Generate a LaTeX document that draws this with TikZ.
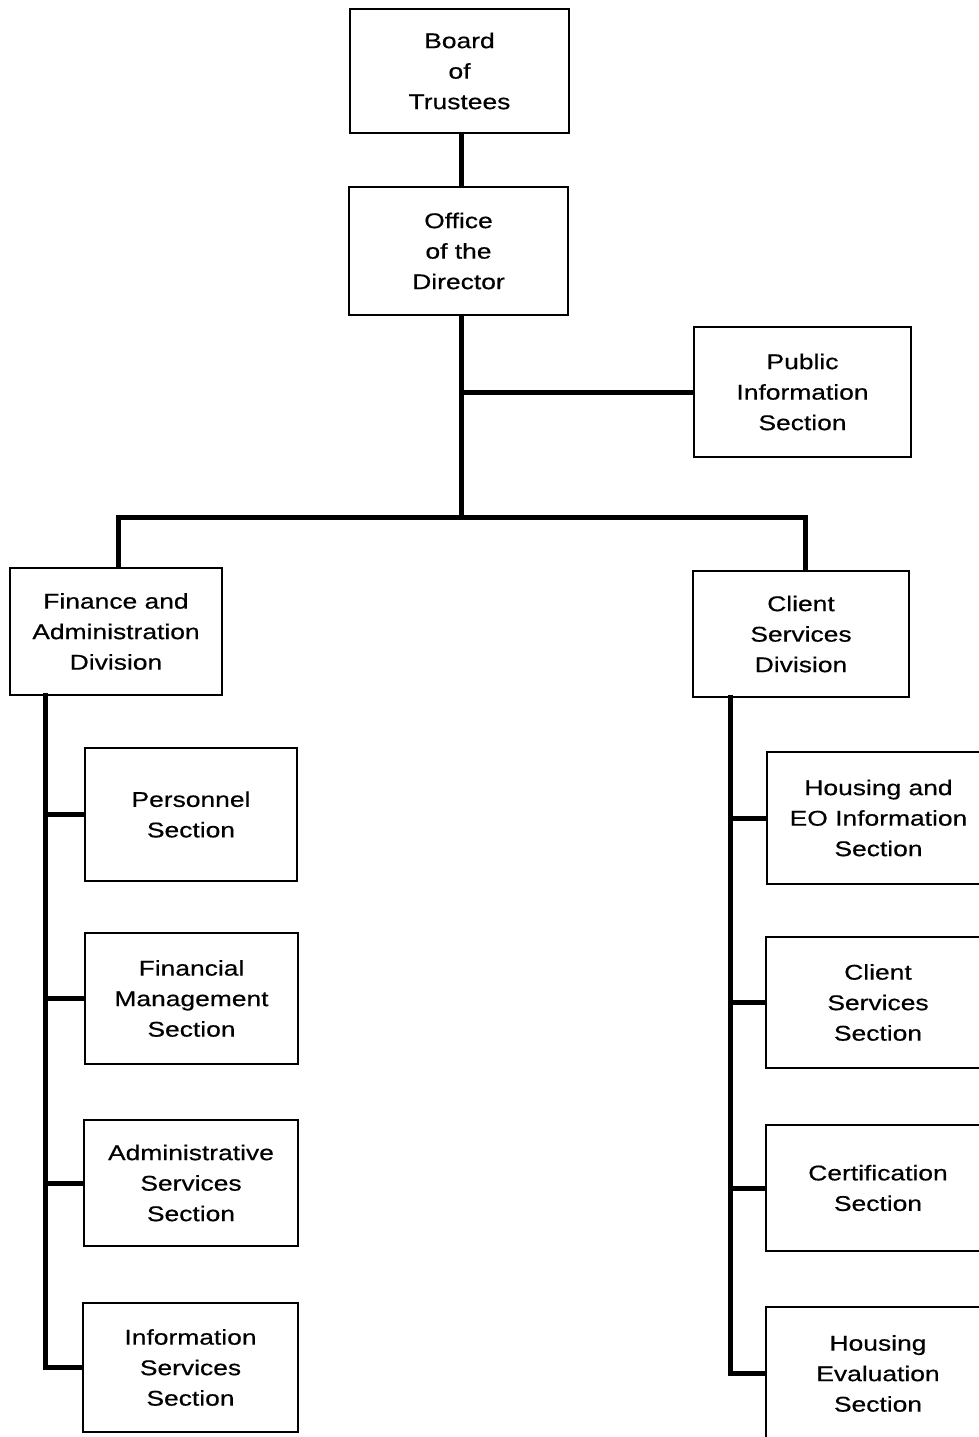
\documentclass[tikz,border=0pt]{standalone}
\usepackage{fontspec}
\setmainfont{Liberation Sans}[FakeStretch=1.24,FakeBold=0.5]
\begin{document}
\begin{tikzpicture}[x=1pt,y=-1pt,
  box/.style={draw=black,line width=2.4pt,fill=white,align=center,inner sep=0pt,
    font=\fontsize{21.3}{30.5}\selectfont},
  conn/.style={line width=5pt,line cap=rect,line join=miter},
  tick/.style={line width=5pt}]
\path[use as bounding box,clip] (0,0) rectangle (979,1437);
\fill[white] (0,0) rectangle (979,1437);
% top
\node[box,minimum width=219pt,minimum height=124pt] (board) at (459.5,71) {Board\\of\\Trustees};
\node[box,minimum width=219pt,minimum height=128pt] (office) at (458.5,251) {Office\\of the\\Director};
\node[box,minimum width=217pt,minimum height=130pt] (pub) at (802.5,392) {Public\\Information\\Section};
% divisions
\node[box,minimum width=212pt,minimum height=127pt] (fin) at (116,631.5) {Finance and\\Administration\\Division};
\node[box,minimum width=216pt,minimum height=126pt] (csd) at (801,634) {Client\\Services\\Division};
% left sections
\node[box,minimum width=212pt,minimum height=133pt] (pers) at (191,814.5) {Personnel\\Section};
\node[box,minimum width=213pt,minimum height=131pt] (finm) at (191.5,998.5) {Financial\\Management\\Section};
\node[box,minimum width=214pt,minimum height=126pt] (adm) at (191,1183) {Administrative\\Services\\Section};
\node[box,minimum width=215pt,minimum height=129pt] (info) at (190.5,1367.5) {Information\\Services\\Section};
% right sections
\node[box,minimum width=223pt,minimum height=132pt] (heo) at (878.5,818) {Housing and\\EO Information\\Section};
\node[box,minimum width=224pt,minimum height=131pt] (css) at (878,1002.5) {Client\\Services\\Section};
\node[box,minimum width=224pt,minimum height=126pt] (cert) at (878,1188) {Certification\\Section};
\node[box,minimum width=224pt,minimum height=133pt] (hev) at (878,1373.5) {Housing\\Evaluation\\Section};
% connectors
\coordinate (j) at (461,517);
\coordinate (jl) at (118,517);
\coordinate (jr) at (805,517);
\coordinate (ls) at (45,695);
\coordinate (rs) at (730,697);
\draw[conn] (board.south -| j) -- (office.north -| j);
\draw[conn] (office.south -| j) -- (j);
\draw[conn] (j |- pub.west) -- (pub.west);
\draw[conn] (fin.north -| jl) -- (jl) -- (jr) -- (csd.north -| jr);
\draw[conn] (ls) |- (info.west);
\draw[tick] (pers.west -| ls) -- (pers.west);
\draw[tick] (finm.west -| ls) -- (finm.west);
\draw[tick] (adm.west -| ls) -- (adm.west);
\draw[conn] (rs) |- (hev.west);
\draw[tick] (heo.west -| rs) -- (heo.west);
\draw[tick] (css.west -| rs) -- (css.west);
\draw[tick] (cert.west -| rs) -- (cert.west);
\end{tikzpicture}
\end{document}
